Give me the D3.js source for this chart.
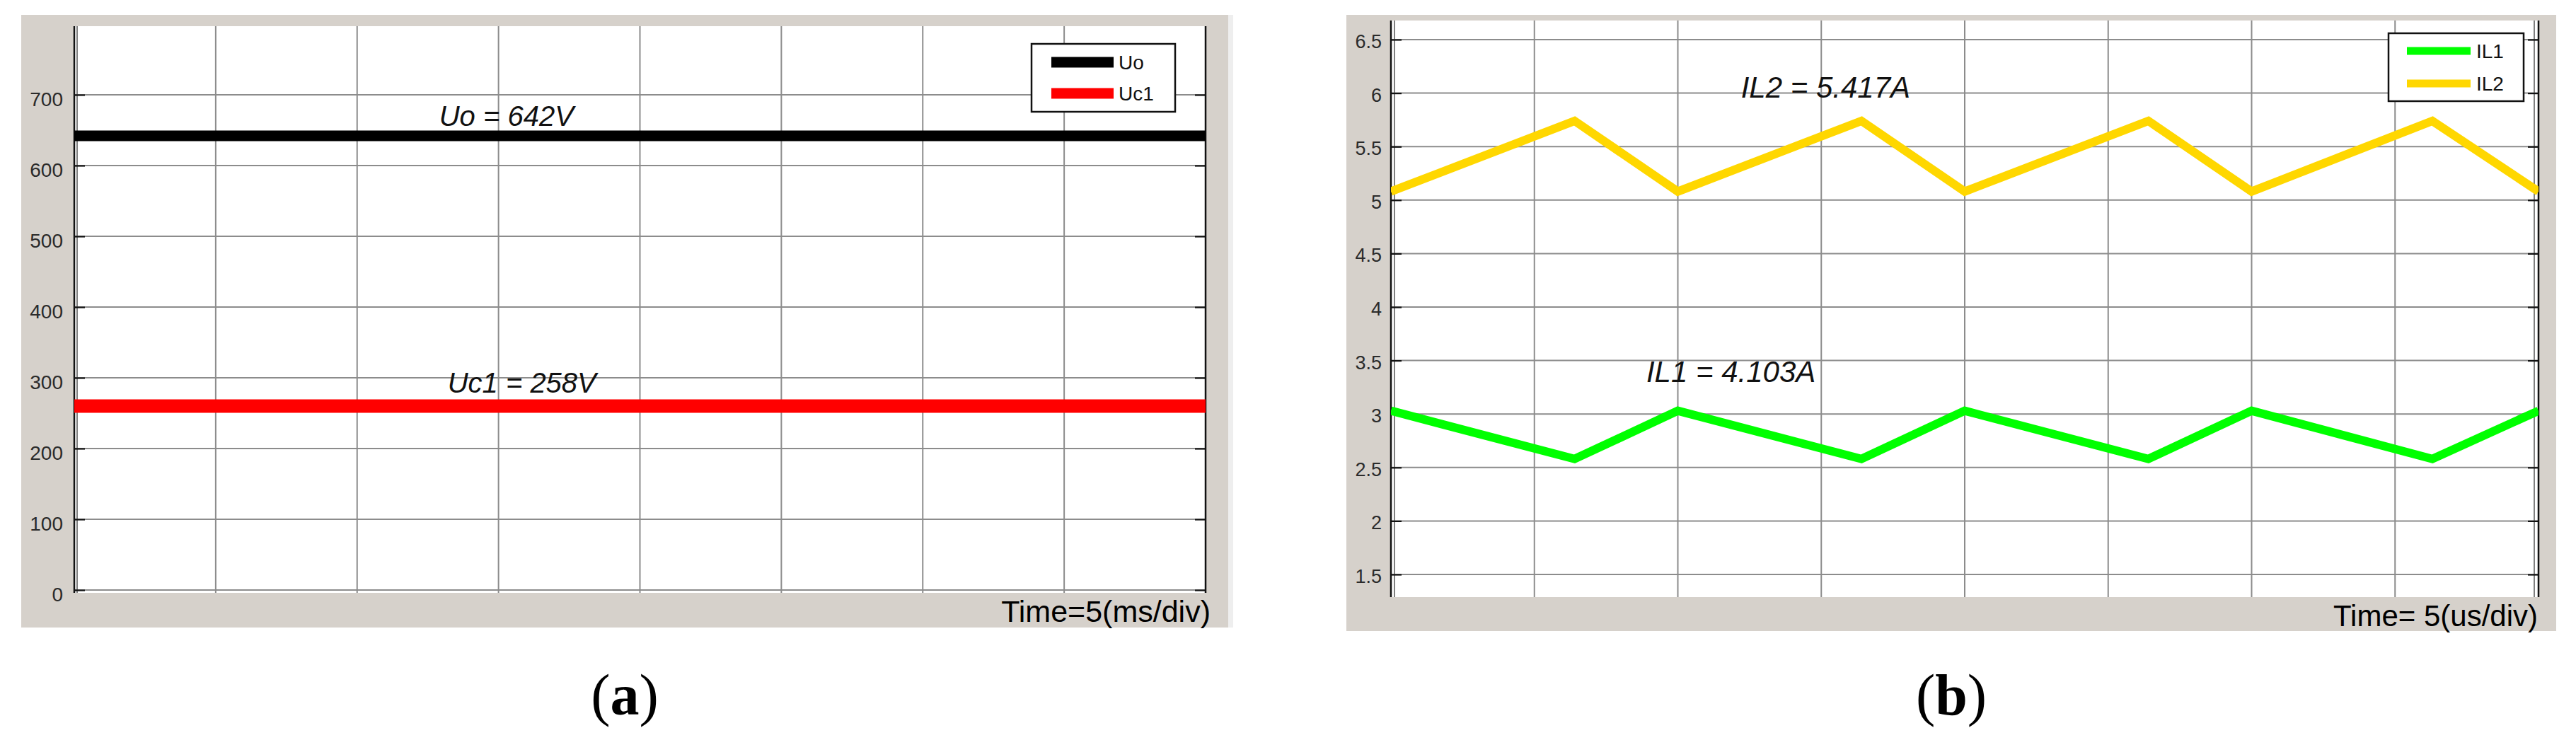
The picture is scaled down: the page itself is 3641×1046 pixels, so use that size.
<!DOCTYPE html>
<html>
<head>
<meta charset="utf-8">
<script src="https://cdn.jsdelivr.net/npm/d3@7"></script>
<style>
  body { margin: 0; background: #fff; }
  svg { display: block; }
</style>
</head>
<body>
<svg id="chart" width="3641" height="1046"></svg>
<script>
// ---- data (a): capacitor / output voltage, time in ms ----
var timeA = [0, 5, 10, 15, 20, 25, 30, 35, 40];
var uoValues = [642, 642, 642, 642, 642, 642, 642, 642, 642];
var uc1Values = [260, 260, 260, 260, 260, 260, 260, 260, 260];
var yTicksA = [0, 100, 200, 300, 400, 500, 600, 700];

// ---- data (b): inductor currents, time in us ----
var timeB = [0, 6.4, 10, 16.4, 20, 26.4, 30, 36.3, 40];
var il1Values = [3.03, 2.58, 3.03, 2.58, 3.03, 2.58, 3.03, 2.58, 3.03];
var il2Values = [5.08, 5.74, 5.08, 5.74, 5.08, 5.74, 5.08, 5.74, 5.08];
var yTicksB = [1.5, 2, 2.5, 3, 3.5, 4, 4.5, 5, 5.5, 6, 6.5];

var xTicks = [0, 5, 10, 15, 20, 25, 30, 35, 40];

var FRAME = '#d6d1cb';
var GRID = '#8c8c8c';
var SANS = '"Liberation Sans", Arial, Helvetica, sans-serif';
var SERIF = '"Liberation Serif", "Times New Roman", serif';

var svg = d3.select('#chart');
svg.append('rect').attr('width', 3641).attr('height', 1046).attr('fill', '#fff');

function drawPanel(cfg) {
    var g = svg.append('g');
    var left = cfg.plot[0], top = cfg.plot[1], right = cfg.plot[2], bottom = cfg.plot[3];

    if (cfg.strip) {
        g.append('rect').attr('x', cfg.frame[2]).attr('y', cfg.frame[1])
            .attr('width', 7).attr('height', cfg.frame[3] - cfg.frame[1]).attr('fill', '#eeeeee');
    }
    g.append('rect')
        .attr('x', cfg.frame[0]).attr('y', cfg.frame[1])
        .attr('width', cfg.frame[2] - cfg.frame[0]).attr('height', cfg.frame[3] - cfg.frame[1])
        .attr('fill', FRAME);
    g.append('rect')
        .attr('x', left).attr('y', top)
        .attr('width', right - left).attr('height', bottom - top)
        .attr('fill', '#fff');

    var x = d3.scaleLinear().domain([0, 40]).range([left, right]);
    var y = d3.scaleLinear().domain(cfg.yDomain).range(cfg.yRange);

    // grid
    g.append('g').selectAll('line').data(cfg.yTicks).enter().append('line')
        .attr('x1', left).attr('x2', right)
        .attr('y1', function(d) { return y(d); }).attr('y2', function(d) { return y(d); })
        .attr('stroke', GRID).attr('stroke-width', 2);
    g.append('g').selectAll('line').data(xTicks.slice(1, -1)).enter().append('line')
        .attr('x1', function(d) { return x(d); }).attr('x2', function(d) { return x(d); })
        .attr('y1', top).attr('y2', bottom)
        .attr('stroke', GRID).attr('stroke-width', 2);

    // inner double lines next to the axes
    g.append('line').attr('x1', left + cfg.inner[0]).attr('x2', left + cfg.inner[0])
        .attr('y1', top).attr('y2', bottom).attr('stroke', '#555').attr('stroke-width', 1.5);
    if (cfg.inner[1]) {
        g.append('line').attr('x1', right - cfg.inner[1]).attr('x2', right - cfg.inner[1])
            .attr('y1', top).attr('y2', bottom).attr('stroke', '#555').attr('stroke-width', 1.5);
    }

    // tick marks on both sides, pointing inward
    var tl = g.append('g').attr('transform', 'translate(' + left + ',0)')
        .call(d3.axisRight(y).tickValues(cfg.yTicks).tickSize(15).tickFormat(''));
    var tr = g.append('g').attr('transform', 'translate(' + right + ',0)')
        .call(d3.axisLeft(y).tickValues(cfg.yTicks).tickSize(15).tickFormat(''));
    [tl, tr].forEach(function(a) {
        a.select('.domain').remove();
        a.selectAll('line').attr('stroke', '#111').attr('stroke-width', 2.2);
    });

    // axis borders
    g.append('line').attr('x1', left).attr('x2', left).attr('y1', top).attr('y2', bottom)
        .attr('stroke', '#111').attr('stroke-width', 2.5);
    g.append('line').attr('x1', right).attr('x2', right).attr('y1', top).attr('y2', bottom)
        .attr('stroke', '#111').attr('stroke-width', 2.5);

    // tick labels
    g.append('g').selectAll('text').data(cfg.yTicks).enter().append('text')
        .attr('x', left - cfg.labelGap)
        .attr('y', function(d) { return y(d) + cfg.labelDy; })
        .attr('text-anchor', 'end')
        .attr('font-family', SANS).attr('font-size', cfg.labelSize)
        .attr('fill', '#2b2b2b')
        .text(function(d) { return d; });

    // traces
    var clipId = 'clip' + cfg.id;
    svg.append('clipPath').attr('id', clipId).append('rect')
        .attr('x', left).attr('y', top).attr('width', right - left).attr('height', bottom - top);
    var line = d3.line().x(function(d) { return x(d[0]); }).y(function(d) { return y(d[1]); });
    cfg.series.forEach(function(s) {
        g.append('path')
            .datum(d3.zip(s.t, s.v))
            .attr('d', line)
            .attr('clip-path', 'url(#' + clipId + ')')
            .attr('fill', 'none')
            .attr('stroke', s.color)
            .attr('stroke-width', s.width)
            .attr('stroke-linejoin', 'miter');
    });

    // value annotations
    cfg.notes.forEach(function(n) {
        g.append('text')
            .attr('x', x(n.t)).attr('y', y(n.v))
            .attr('font-family', SANS).attr('font-style', 'italic')
            .attr('font-size', n.size).attr('fill', '#111')
            .text(n.text);
    });

    // legend
    var L = cfg.legend;
    var lg = g.append('g').attr('transform', 'translate(' + L.x + ',' + L.y + ')');
    lg.append('rect').attr('width', L.w).attr('height', L.h)
        .attr('fill', '#fff').attr('stroke', '#111').attr('stroke-width', 2.5);
    cfg.series.forEach(function(s, i) {
        var cy = L.row0 + i * L.rowStep;
        lg.append('line').attr('x1', L.lineX0).attr('x2', L.lineX1)
            .attr('y1', cy).attr('y2', cy)
            .attr('stroke', s.color).attr('stroke-width', L.lineW);
        lg.append('text').attr('x', L.textX).attr('y', cy + 10)
            .attr('font-family', SANS).attr('font-size', 28).attr('fill', '#111')
            .text(s.name);
    });

    // time-per-division label
    g.append('text')
        .attr('x', cfg.timeLabel.x).attr('y', cfg.timeLabel.y)
        .attr('text-anchor', 'end')
        .attr('font-family', SANS).attr('font-size', cfg.timeLabel.size)
        .attr('fill', '#000')
        .text(cfg.timeLabel.text);

    // sub-figure caption
    var cap = svg.append('text')
        .attr('x', (cfg.frame[0] + cfg.frame[2]) / 2).attr('y', 1010)
        .attr('text-anchor', 'middle')
        .attr('font-family', SERIF).attr('font-size', 82).attr('fill', '#000');
    cap.append('tspan').text('(');
    cap.append('tspan').attr('font-weight', 'bold').text(cfg.caption);
    cap.append('tspan').text(')');
}

drawPanel({
    id: 'a',
    frame: [30, 21, 1736, 887],
    plot: [105, 37, 1704, 838],
    strip: true,
    inner: [4, 0],
    yDomain: [0, 700], yRange: [834, 134],
    yTicks: yTicksA,
    labelGap: 16, labelDy: 16, labelSize: 28,
    series: [
        { name: 'Uo', t: timeA, v: uoValues, color: '#000000', width: 15 },
        { name: 'Uc1', t: timeA, v: uc1Values, color: '#ff0000', width: 19 }
    ],
    notes: [
        { text: 'Uo = 642V', t: 12.9, v: 656, size: 40 },
        { text: 'Uc1 = 258V', t: 13.2, v: 279, size: 40 }
    ],
    legend: { x: 1458, y: 62, w: 203, h: 96, lineX0: 28, lineX1: 116, lineW: 15,
              textX: 123, row0: 26, rowStep: 44 },
    timeLabel: { text: 'Time=5(ms/div)', x: 1711, y: 879, size: 43 },
    caption: 'a'
});

drawPanel({
    id: 'b',
    frame: [1903, 21, 3613, 892],
    plot: [1966, 29, 3588, 844],
    strip: false,
    inner: [5, 6],
    yDomain: [1.5, 6.5], yRange: [812, 56],
    yTicks: yTicksB,
    labelGap: 13, labelDy: 12, labelSize: 27,
    series: [
        { name: 'IL1', t: timeB, v: il1Values, color: '#00ff00', width: 12 },
        { name: 'IL2', t: timeB, v: il2Values, color: '#ffd700', width: 12 }
    ],
    notes: [
        { text: 'IL2 = 5.417A', t: 12.2, v: 5.96, size: 42 },
        { text: 'IL1 = 4.103A', t: 8.9, v: 3.3, size: 42 }
    ],
    legend: { x: 3376, y: 47, w: 191, h: 96, lineX0: 26, lineX1: 116, lineW: 11,
              textX: 124, row0: 25, rowStep: 46 },
    timeLabel: { text: 'Time= 5(us/div)', x: 3587, y: 885, size: 42 },
    caption: 'b'
});
</script>
</body>
</html>
